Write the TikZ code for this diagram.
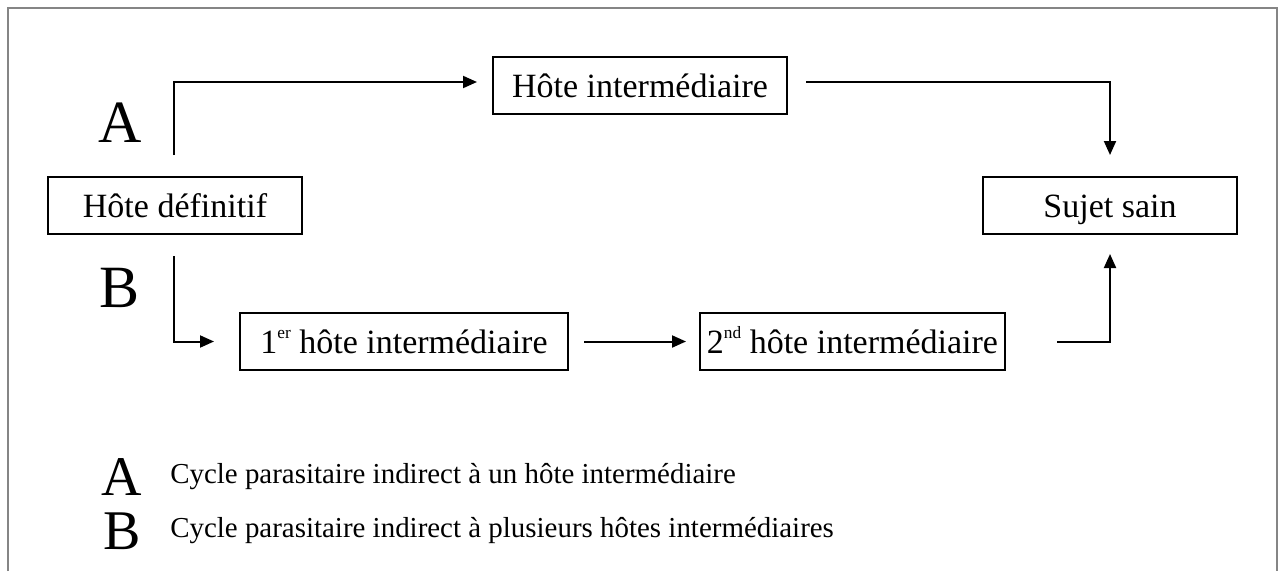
\documentclass[tikz,border=0pt]{standalone}
\usepackage{fontspec}
\setmainfont{Liberation Serif}
\usetikzlibrary{arrows.meta}
\newcommand{\supx}[1]{\raisebox{0.42em}{\fontsize{13}{14}\selectfont #1}}
\begin{document}
\begin{tikzpicture}[x=0.75pt,y=-0.75pt,
  box/.style={draw, line width=1.5pt, inner sep=0pt, font=\fontsize{25.5}{29}\selectfont,
    text height=21.3pt, text depth=4pt},
  arr/.style={line width=1.5pt, -{Triangle[length=10.5pt,width=9pt]}},
  big/.style={font=\fontsize{45}{48}\selectfont, inner sep=0pt, anchor=base},
  legbig/.style={font=\fontsize{42}{46}\selectfont, inner sep=0pt, anchor=base},
  legtxt/.style={font=\fontsize{21.7}{25}\selectfont, inner sep=0pt, anchor=base west},
  frame/.style={draw=black!48, line width=1.5pt}]
\useasboundingbox (0,0) rectangle (1284,571);
\draw[frame] (8,571) -- (8,8) -- (1277,8) -- (1277,571);

\node[box, minimum width=254*0.75pt, minimum height=57*0.75pt] (def) at (175,205.5) {Hôte définitif};
\node[box, minimum width=294*0.75pt, minimum height=57*0.75pt] (hi) at (640,85.5) {Hôte intermédiaire};
\node[box, minimum width=254*0.75pt, minimum height=57*0.75pt] (ss) at (1110,205.5) {Sujet sain};
\node[box, minimum width=328*0.75pt, minimum height=57*0.75pt] (h1) at (404,341.5) {1\supx{er} hôte intermédiaire};
\node[box, minimum width=305*0.75pt, minimum height=57*0.75pt] (h2) at (852.5,341.5) {2\supx{nd} hôte intermédiaire};

\coordinate (ax) at (174,82);
\draw[arr, shorten <=15.75pt, shorten >=11.25pt] (def.north -| ax) |- (hi.west |- ax);
\draw[arr, shorten <=13.5pt, shorten >=15.75pt] (hi.east |- ax) -| (ss.north);
\draw[arr, shorten <=15.75pt, shorten >=18.75pt] (def.south -| ax) |- (h1.west);
\draw[arr, shorten <=11.25pt, shorten >=9.75pt] (h1.east) -- (h2.west);
\draw[arr, shorten <=38.25pt, shorten >=14.25pt] (h2.east) -| (ss.south);

\node[big] (la) at (120,142) {A};
\node[big] (lb) at (120,307) {B};

\node[legbig] (ka) at (122,495) {A};
\node[legbig] (kb) at (122,549) {B};
\node[legtxt] (ta) at (170,483) {Cycle parasitaire indirect à un hôte intermédiaire};
\node[legtxt] (tb) at (170,537) {Cycle parasitaire indirect à plusieurs hôtes intermédiaires};
\end{tikzpicture}
\end{document}
